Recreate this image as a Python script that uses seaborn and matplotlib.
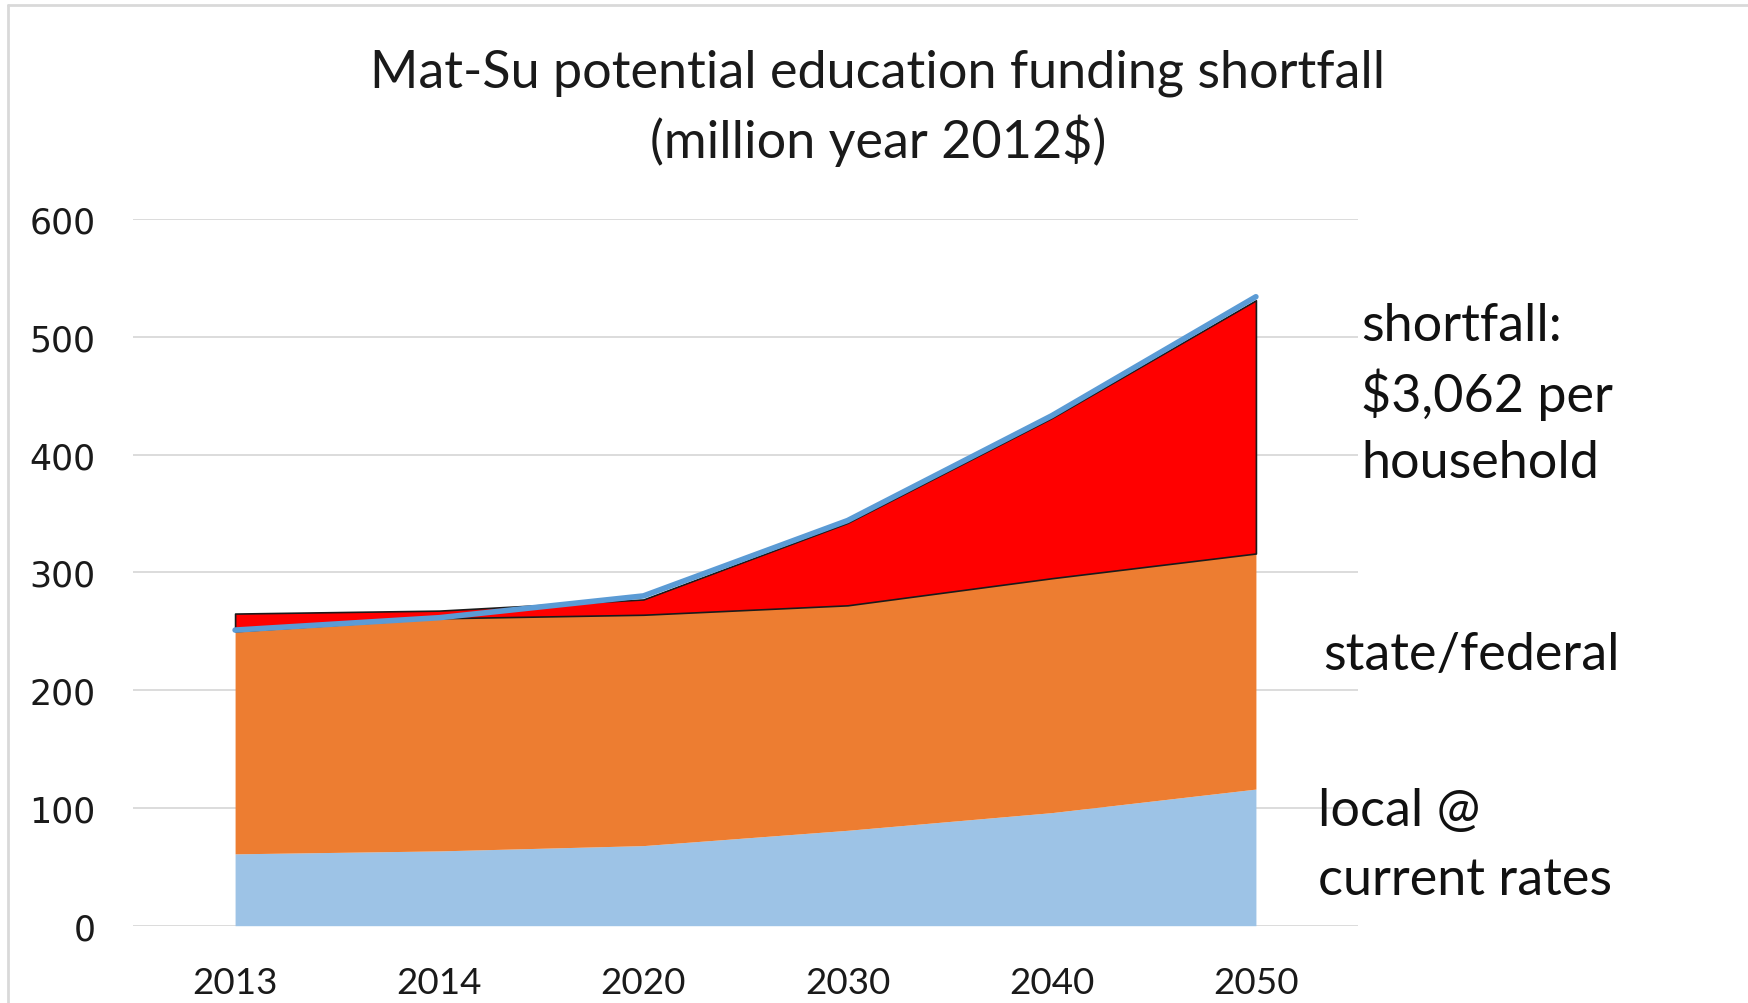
import numpy as np
import pandas as pd
import matplotlib
matplotlib.use("Agg")
import matplotlib.pyplot as plt
from matplotlib.lines import Line2D
import seaborn as sns

# Mat-Su education funding, million year-2012 dollars
years = ["2013", "2014", "2020", "2030", "2040", "2050"]
local_current_rates = [61, 63.5, 68, 81, 96, 116]
state_federal_top = [250, 261, 264, 272, 295, 316]
shortfall_top = [265, 267.5, 277, 342, 431, 531]
total_need = [251, 261.5, 280, 344, 433, 534]
y_ticks = [0, 100, 200, 300, 400, 500, 600]

df = pd.DataFrame({
    "pos": np.arange(len(years)),
    "year": years,
    "local": local_current_rates,
    "state_fed": state_federal_top,
    "shortfall": shortfall_top,
    "need": total_need,
})

sns.set_theme(style="white")
plt.rcParams["font.family"] = ["Lato", "DejaVu Sans"]

W, H = 1749, 1004
fig = plt.figure(figsize=(W / 100, H / 100), dpi=100)
ax = fig.add_axes([133 / W, 1 - 926.7 / H, (1358 - 133) / W, (926.7 - 220) / H])

# stacked areas
ax.fill_between(df["pos"], 0, df["local"], color="#9DC3E6", linewidth=0, zorder=2)
ax.fill_between(df["pos"], df["local"], df["state_fed"], color="#ED7D31", linewidth=0, zorder=2)
ax.fill_between(df["pos"], df["state_fed"], df["shortfall"], facecolor="#FF0000",
                edgecolor="#1a1a1a", linewidth=1.2, zorder=3)

# total need line
sns.lineplot(data=df, x="pos", y="need", color="#5B9BD5", linewidth=4, ax=ax, zorder=4)

ax.set_xlim(-0.5, len(years) - 0.5)
ax.set_ylim(0, 600)
ax.set_yticks(y_ticks)
ax.set_xticks(df["pos"])
ax.set_xticklabels(years, fontsize=26.5, color="#1a1a1a")
ax.set_yticklabels([str(v) for v in y_ticks], fontsize=25, color="#1a1a1a",
                   family=["DejaVu Sans"])
ax.tick_params(axis="x", length=0, pad=29)
ax.tick_params(axis="y", length=0, pad=27)
ax.set_xlabel("")
ax.set_ylabel("")
for spine in ax.spines.values():
    spine.set_visible(False)
ax.yaxis.grid(True, color="#D9D9D9", linewidth=1.3, zorder=0)
ax.set_axisbelow(True)

# title
fig.text(878 / W, 1 - 73 / H, "Mat-Su potential education funding shortfall",
         ha="center", va="center", fontsize=37.5, color="#1a1a1a")
fig.text(878 / W, 1 - 141 / H, "(million year 2012$)",
         ha="center", va="center", fontsize=37.5, color="#1a1a1a")

# series labels
label_kw = dict(ha="left", va="center", fontsize=37.5, color="#111111")
fig.text(1361 / W, 1 - 327 / H, "shortfall:", **label_kw)
fig.text(1361 / W, 1 - 395 / H, "$3,062 per", **label_kw)
fig.text(1361 / W, 1 - 463 / H, "household", **label_kw)
fig.text(1323 / W, 1 - 656 / H, "state/federal", **label_kw)
fig.text(1318 / W, 1 - 812 / H, "local @", **label_kw)
fig.text(1318 / W, 1 - 881 / H, "current rates", **label_kw)

# chart frame edges
fig.add_artist(Line2D([8 / W, 8 / W], [0, 1 - 6 / H], transform=fig.transFigure,
                      color="#D9D9D9", linewidth=2))
fig.add_artist(Line2D([8 / W, 1], [1 - 6 / H, 1 - 6 / H], transform=fig.transFigure,
                      color="#D9D9D9", linewidth=2))

fig.savefig("out.png", dpi=100, facecolor="white")
